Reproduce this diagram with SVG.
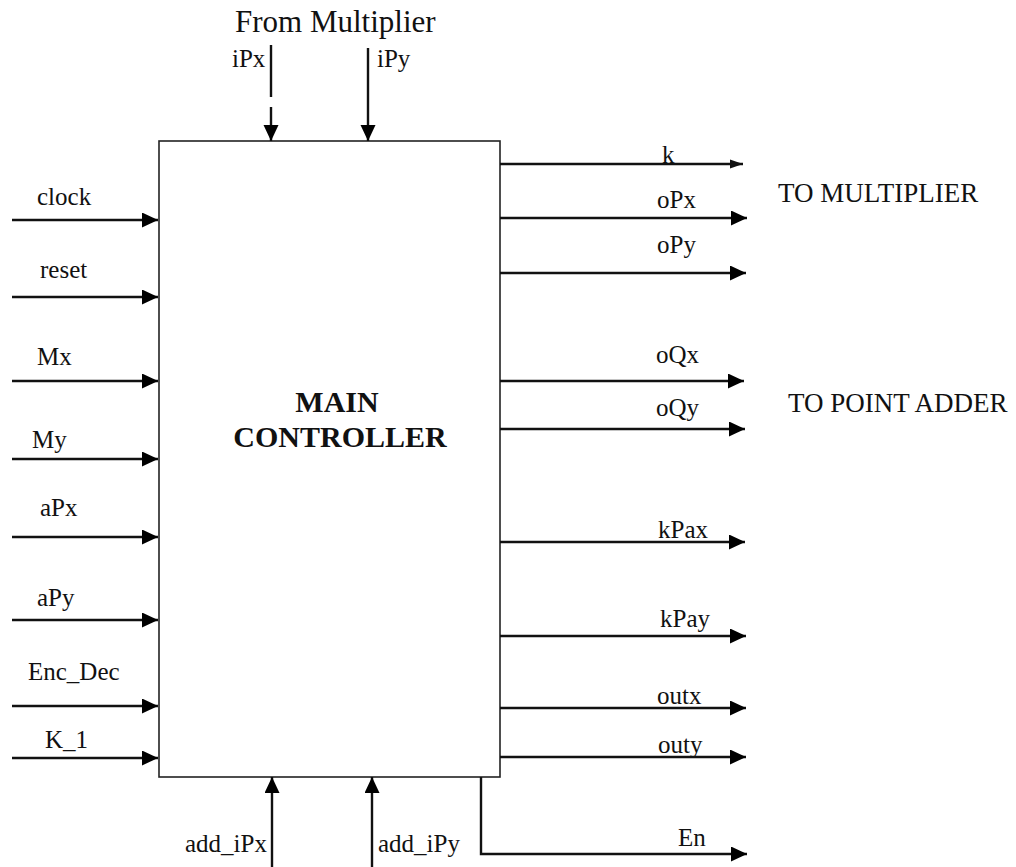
<svg xmlns="http://www.w3.org/2000/svg" width="1016" height="867" viewBox="0 0 1016 867" font-family="'Liberation Serif', 'DejaVu Serif', 'Times New Roman', serif">
<style>
text{font-family:"Liberation Serif","DejaVu Serif","Times New Roman",serif;fill:#111;}
.lbl{font-size:25px;}
.title{font-size:31px;}
.big{font-size:30px;font-weight:bold;}
.side{font-size:27px;}
.w{stroke:#111;stroke-width:2.4;fill:none;}
.box{fill:#fff;stroke:#222;stroke-width:1.6;}
</style>
<defs>
<marker id="ah" markerUnits="userSpaceOnUse" markerWidth="18" markerHeight="16" refX="16" refY="7.5" orient="auto">
<path d="M0,0 L16,7.5 L0,15 z" fill="#000"/>
</marker>
<marker id="ahs" markerUnits="userSpaceOnUse" markerWidth="16" markerHeight="14" refX="14" refY="6" orient="auto">
<path d="M1,1.5 L14,6 L1,10.5 z" fill="#111"/>
</marker>
</defs>
<rect width="1016" height="867" fill="#fff"/>

<g id="main-controller">
<rect class="box" x="159" y="141" width="341" height="636"/>
<text class="big" x="337" y="412" text-anchor="middle">MAIN</text>
<text class="big" x="340" y="447" text-anchor="middle">CONTROLLER</text>
</g>

<g id="annotations">
<text class="title" x="235" y="32">From Multiplier</text>
<text class="side" x="778" y="202">TO MULTIPLIER</text>
<text class="side" x="788" y="412">TO POINT ADDER</text>
</g>

<g id="connectors">
<line class="w" x1="271" y1="45" x2="271" y2="97"/>
<line class="w" x1="271" y1="107" x2="271" y2="141" marker-end="url(#ah)"/>
<line class="w" x1="368" y1="48" x2="368" y2="141" marker-end="url(#ah)"/>
<line class="w" x1="12" y1="220" x2="158" y2="220" marker-end="url(#ah)"/>
<line class="w" x1="12" y1="297" x2="158" y2="297" marker-end="url(#ah)"/>
<line class="w" x1="12" y1="381" x2="158" y2="381" marker-end="url(#ah)"/>
<line class="w" x1="12" y1="459" x2="158" y2="459" marker-end="url(#ah)"/>
<line class="w" x1="12" y1="537" x2="158" y2="537" marker-end="url(#ah)"/>
<line class="w" x1="12" y1="620" x2="158" y2="620" marker-end="url(#ah)"/>
<line class="w" x1="12" y1="706" x2="158" y2="706" marker-end="url(#ah)"/>
<line class="w" x1="12" y1="758" x2="158" y2="758" marker-end="url(#ah)"/>
<line class="w" x1="500" y1="164" x2="743" y2="164" marker-end="url(#ahs)"/>
<line class="w" x1="500" y1="218" x2="747" y2="218" marker-end="url(#ah)"/>
<line class="w" x1="500" y1="273" x2="746" y2="273" marker-end="url(#ah)"/>
<line class="w" x1="500" y1="381" x2="744" y2="381" marker-end="url(#ah)"/>
<line class="w" x1="500" y1="429" x2="745" y2="429" marker-end="url(#ah)"/>
<line class="w" x1="500" y1="542" x2="745" y2="542" marker-end="url(#ah)"/>
<line class="w" x1="500" y1="636" x2="746" y2="636" marker-end="url(#ah)"/>
<line class="w" x1="500" y1="708" x2="746" y2="708" marker-end="url(#ah)"/>
<line class="w" x1="500" y1="757" x2="746" y2="757" marker-end="url(#ah)"/>
<line class="w" x1="272" y1="867" x2="272" y2="777" marker-end="url(#ah)"/>
<line class="w" x1="372" y1="867" x2="372" y2="777" marker-end="url(#ah)"/>
<polyline class="w" points="481,777 481,854 747,854" marker-end="url(#ah)"/>
</g>

<g id="labels">
<text class="lbl" x="232" y="67">iPx</text>
<text class="lbl" x="377" y="67">iPy</text>
<text class="lbl" x="37" y="205">clock</text>
<text class="lbl" x="40" y="278">reset</text>
<text class="lbl" x="37" y="365">Mx</text>
<text class="lbl" x="32" y="448">My</text>
<text class="lbl" x="40" y="516">aPx</text>
<text class="lbl" x="37" y="606">aPy</text>
<text class="lbl" x="28" y="680">Enc_Dec</text>
<text class="lbl" x="45" y="748">K_1</text>
<text class="lbl" x="662" y="163">k</text>
<text class="lbl" x="657" y="208">oPx</text>
<text class="lbl" x="657" y="253">oPy</text>
<text class="lbl" x="656" y="363">oQx</text>
<text class="lbl" x="656" y="416">oQy</text>
<text class="lbl" x="658" y="538">kPax</text>
<text class="lbl" x="660" y="627">kPay</text>
<text class="lbl" x="657" y="704">outx</text>
<text class="lbl" x="658" y="753">outy</text>
<text class="lbl" x="678" y="846">En</text>
<text class="lbl" x="185" y="852">add_iPx</text>
<text class="lbl" x="378" y="852">add_iPy</text>
</g>
</svg>
